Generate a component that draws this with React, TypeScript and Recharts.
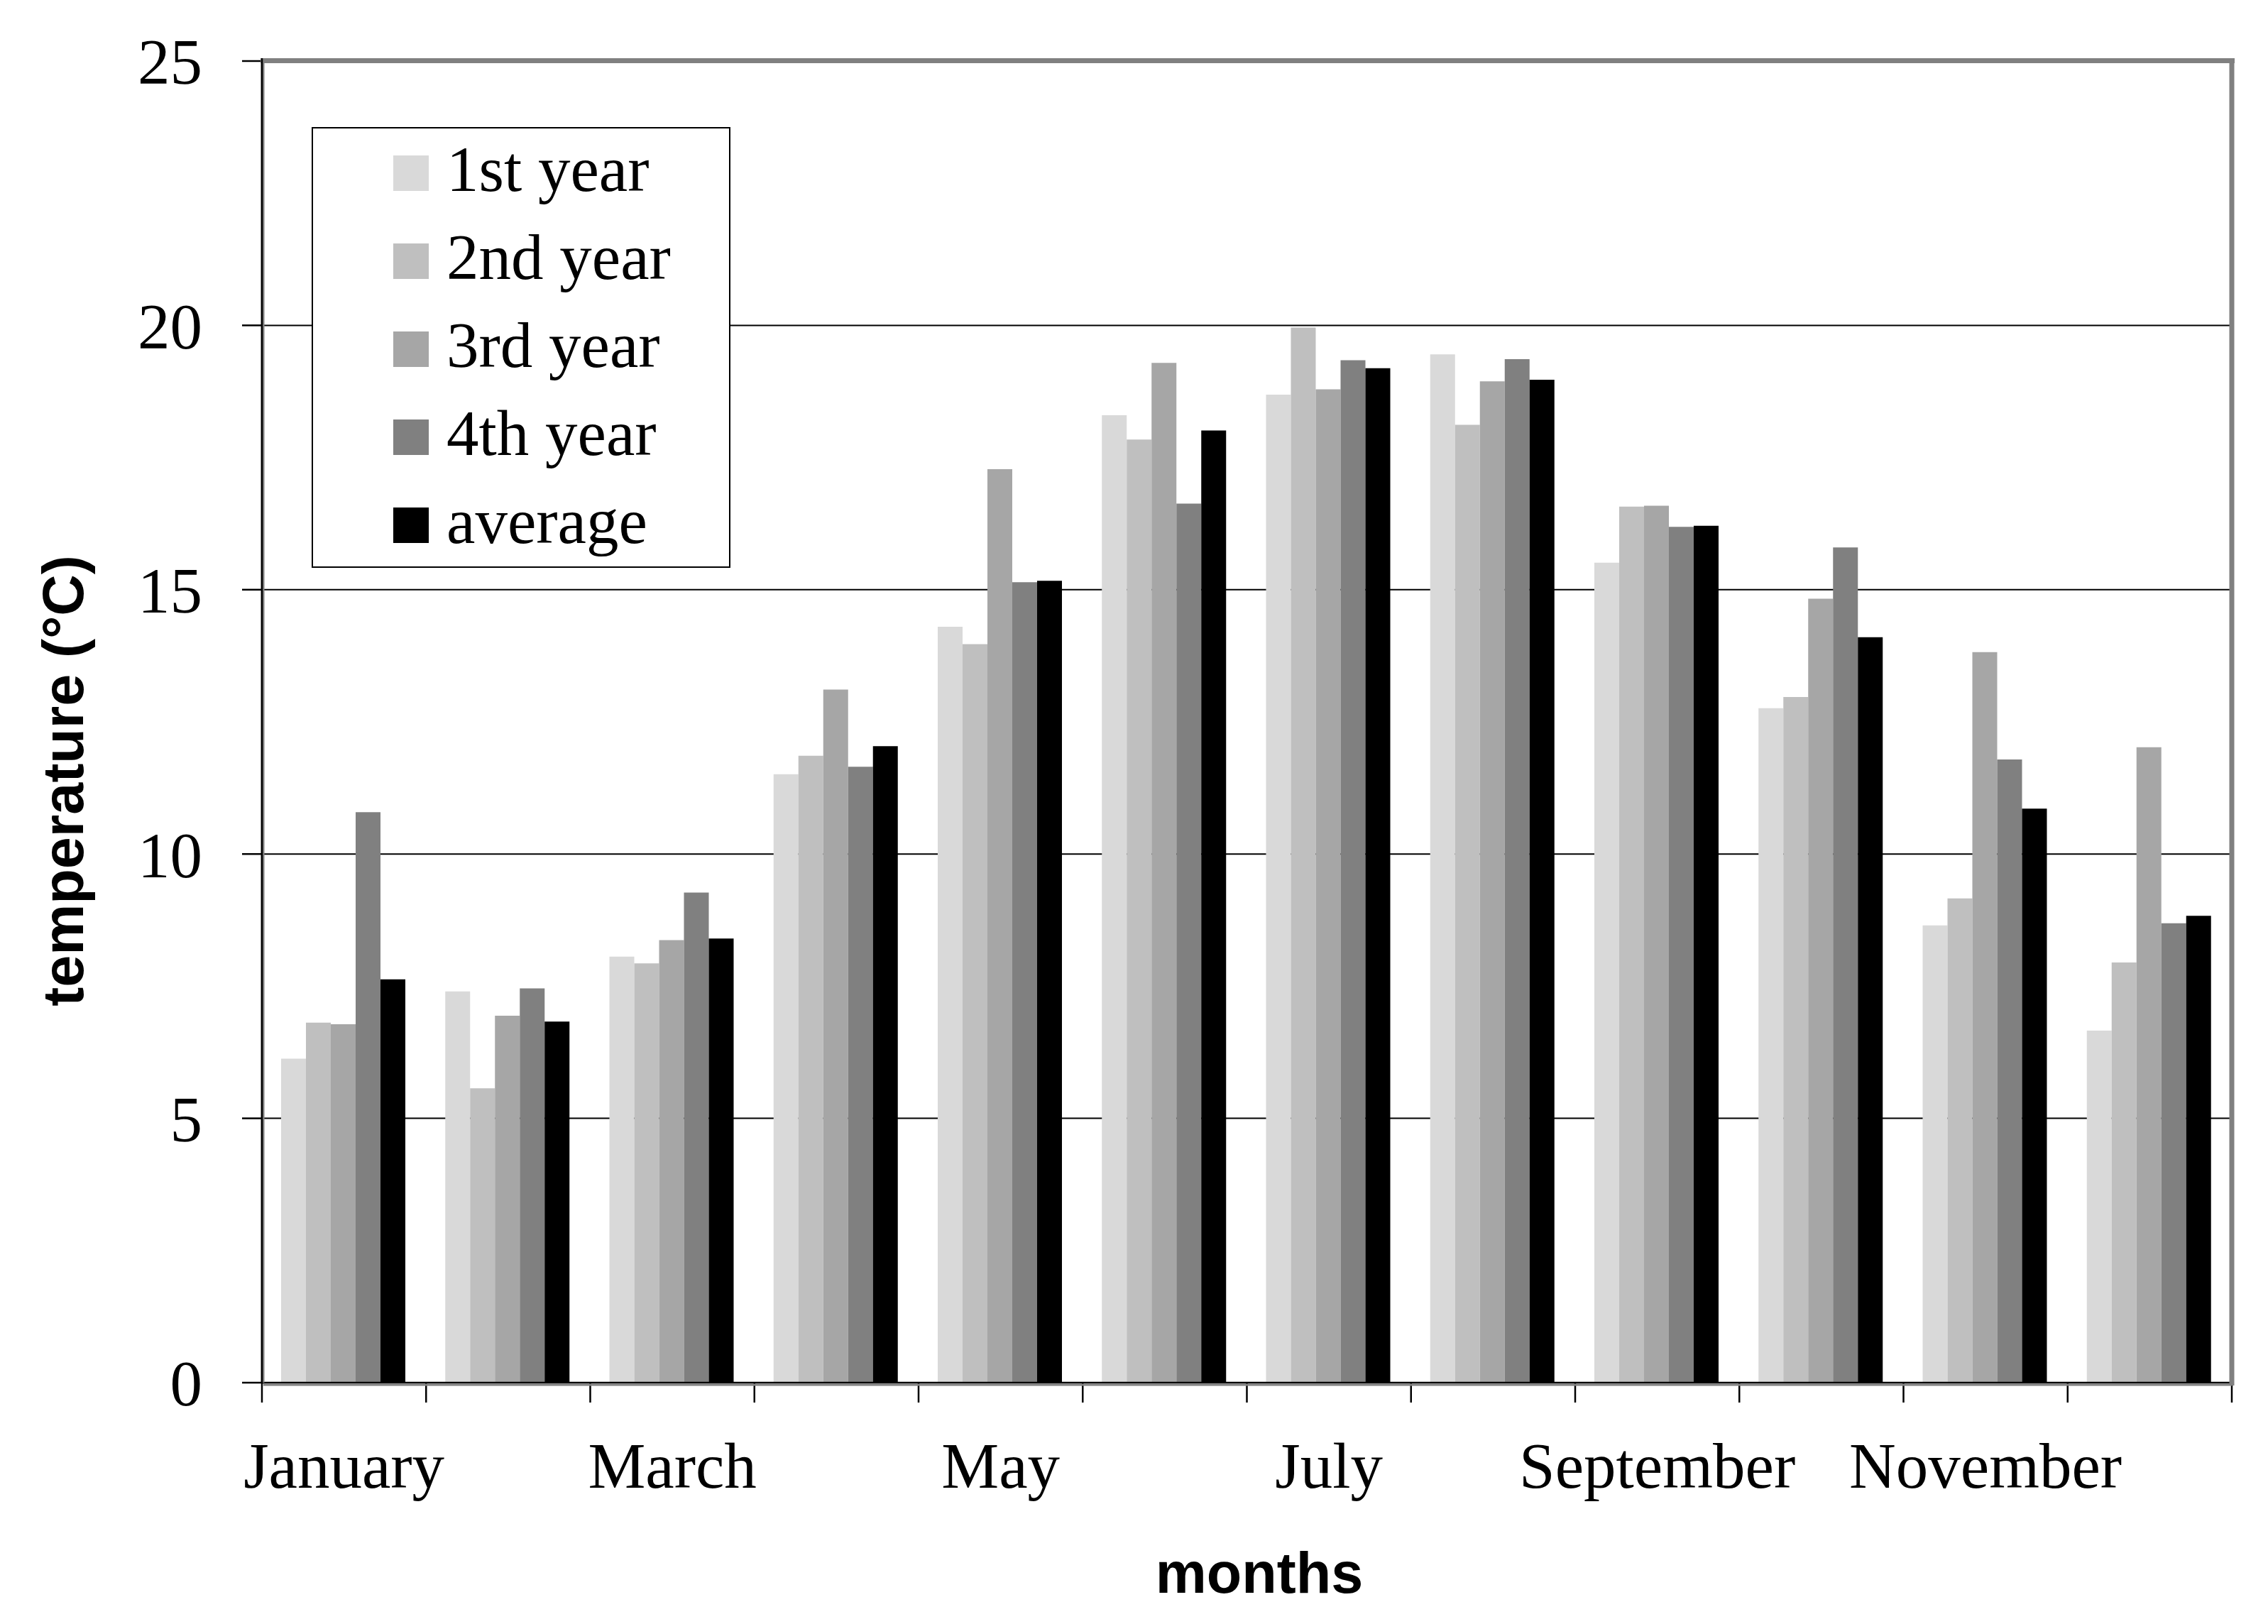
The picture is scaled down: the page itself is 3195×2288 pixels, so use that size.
import React from 'react';
import { BarChart, Bar, XAxis, YAxis, CartesianGrid } from 'recharts';

const months = ['January', 'February', 'March', 'April', 'May', 'June', 'July', 'August', 'September', 'October', 'November', 'December'];
const year1 = [6.13, 7.4, 8.06, 11.51, 14.3, 18.3, 18.69, 19.45, 15.51, 12.76, 8.65, 6.66];
const year2 = [6.81, 5.57, 7.93, 11.86, 13.97, 17.84, 19.96, 18.12, 16.57, 12.97, 9.16, 7.95];
const year3 = [6.78, 6.94, 8.37, 13.11, 17.28, 19.29, 18.79, 18.94, 16.59, 14.83, 13.82, 12.02];
const year4 = [10.79, 7.46, 9.27, 11.65, 15.14, 16.63, 19.34, 19.36, 16.19, 15.8, 11.79, 8.69];
const average = [7.63, 6.83, 8.4, 12.04, 15.17, 18.01, 19.19, 18.97, 16.21, 14.1, 10.86, 8.83];
const yTicks = [0, 5, 10, 15, 20, 25];

const seriesKeys = ['y1', 'y2', 'y3', 'y4', 'avg'];
const seriesNames = ['1st year', '2nd year', '3rd year', '4th year', 'average'];
const seriesColors = ['#d9d9d9', '#bfbfbf', '#a6a6a6', '#808080', '#000000'];

const data = months.map((m, i) => ({
  month: m,
  y1: year1[i],
  y2: year2[i],
  y3: year3[i],
  y4: year4[i],
  avg: average[i],
}));

const W = 3187;
const H = 2280;
const PL = 361;
const PR = 3136;
const PT = 78;
const PB = 1940;
const BAND = (PR - PL) / months.length;
const SERIF = '"Liberation Serif", "Times New Roman", serif';
const SANS = '"Liberation Sans", Arial, sans-serif';
const FS = 91;

const XTick = (props: any) => {
  const { x, y, payload, index } = props;
  const left = x - BAND / 2;
  const right = x + BAND / 2;
  return (
    <g>
      <line x1={left} x2={left} y1={y} y2={y + 28} stroke="#000" strokeWidth={2.5} />
      {index === months.length - 1 && (
        <line x1={right} x2={right} y1={y} y2={y + 28} stroke="#000" strokeWidth={2.5} />
      )}
      {index % 2 === 0 && (
        <text x={x} y={y + 148} textAnchor="middle" fontFamily={SERIF} fontSize={FS} fill="#000">
          {payload.value}
        </text>
      )}
    </g>
  );
};

export default function App() {
  return (
    <div style={{ position: 'relative', width: W, height: H, background: '#fff' }}>
      <BarChart
        width={W}
        height={H}
        data={data}
        margin={{ top: PT, right: W - PR, bottom: 0, left: 0 }}
        barCategoryGap={27}
        barGap={0}
      >
        <CartesianGrid vertical={false} stroke="#000" strokeWidth={2} horizontalValues={yTicks} />
        {seriesKeys.map((k, i) => (
          <Bar key={k} dataKey={k} name={seriesNames[i]} fill={seriesColors[i]} isAnimationActive={false} />
        ))}
        <XAxis
          dataKey="month"
          height={H - PB}
          interval={0}
          tickSize={0}
          tickMargin={0}
          tickLine={false}
          tick={<XTick />}
          axisLine={{ stroke: '#000', strokeWidth: 2.5 }}
        />
        <YAxis
          width={PL}
          domain={[0, 25]}
          ticks={yTicks}
          interval={0}
          tickSize={28}
          tickMargin={56}
          tickLine={{ stroke: '#000', strokeWidth: 2.5 }}
          axisLine={{ stroke: '#000', strokeWidth: 2.5 }}
          tick={{ fontFamily: SERIF, fontSize: FS, fill: '#000' }}
        />
      </BarChart>
      <svg
        width={W}
        height={H}
        style={{ position: 'absolute', left: 0, top: 0, pointerEvents: 'none' }}
      >
        {/* plot border */}
        <line x1={PL - 2} x2={PR + 4} y1={PT - 0.5} y2={PT - 0.5} stroke="#808080" strokeWidth={7} />
        <line x1={PR} x2={PR} y1={PT - 4} y2={PB + 4} stroke="#808080" strokeWidth={7} />
        <line x1={PL + 2} x2={PR} y1={PB + 3} y2={PB + 3} stroke="#808080" strokeWidth={3} />
        <line x1={PL + 2} x2={PL + 2} y1={PT} y2={PB} stroke="#808080" strokeWidth={3} />
        <line x1={PL} x2={PL} y1={PT - 4} y2={PB} stroke="#000" strokeWidth={2.5} />
        {/* legend */}
        <rect x={432} y={172} width={588} height={619} fill="#fff" stroke="#000" strokeWidth={2} />
        {seriesNames.map((n, i) => {
          const base = 261 + i * 124;
          return (
            <g key={n}>
              <rect x={546} y={base - 50} width={50} height={50} fill={seriesColors[i]} />
              <text x={621} y={base} fontFamily={SERIF} fontSize={FS} fill="#000">
                {n}
              </text>
            </g>
          );
        })}
        {/* axis titles */}
        <text x={1766} y={2236} textAnchor="middle" fontFamily={SANS} fontWeight="bold" fontSize={81} fill="#000">
          months
        </text>
        <text
          x={109}
          y={1092}
          textAnchor="middle"
          fontFamily={SANS}
          fontWeight="bold"
          fontSize={81}
          fill="#000"
          transform="rotate(-90, 109, 1092)"
        >
          temperature (°C)
        </text>
      </svg>
    </div>
  );
}
